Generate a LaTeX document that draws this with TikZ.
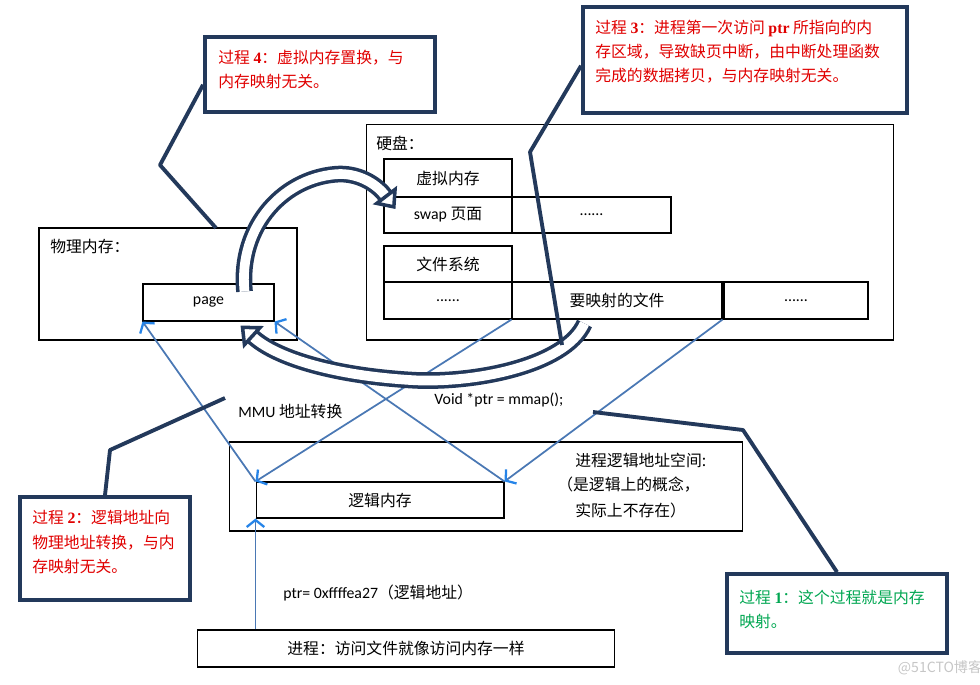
\documentclass[tikz,border=0pt]{standalone}
\usepackage{fontspec}
\setmainfont{Noto Sans CJK SC}
\newfontfamily\latin{Carlito}
\newfontfamily\tnr{Liberation Serif}
\usepackage{tikz}
\usetikzlibrary{arrows.meta,calc,fit}
\definecolor{navy}{HTML}{23395B}
\definecolor{steel}{HTML}{4A78B4}
\definecolor{tipblue}{HTML}{2684E8}
\definecolor{procred}{HTML}{E00000}
\definecolor{procgreen}{HTML}{00A651}

\begin{document}
\begin{tikzpicture}[x=0.02cm, y=-0.02cm,
    every node/.style={font=\fontsize{9pt}{13.7pt}\selectfont},
    membox/.style={draw, line width=0.6pt, inner sep=0pt},
    callout/.style={draw=navy, line width=2.2pt, inner sep=0pt},
    calltext/.style={anchor=west, inner sep=0pt, align=left},
    callline/.style={draw=navy, line width=2.2pt, line join=round},
    plain/.style={anchor=west, inner sep=0pt},
    maparrow/.style={draw=steel, line width=1pt,
        -{Straight Barb[color=tipblue, length=4pt, width=10pt, line width=1.3pt]}},
    swaparrow/.style={draw=navy, line width=2pt, double=white, double distance=5.5pt,
        -{Triangle[open, fill=white, length=10pt, width=17pt, line width=2pt]}}]
    \useasboundingbox (0,0) rectangle (980,684);

    % hard disk
    \node[membox, minimum width=10.56cm, minimum height=4.32cm] (disk) at (630,232) {};
    \node[plain] (disklabel) at (376,143) {硬盘：};
    \node[membox, minimum width=2.56cm, minimum height=0.76cm] (vmem) at (448,178) {虚拟内存};
    \node[membox, minimum width=2.56cm, minimum height=0.72cm] (swap) at (448,215) {{\latin swap} 页面};
    \node[membox, minimum width=3.18cm, minimum height=0.72cm] (swapdots) at (591.5,215) {\latin ......};
    \node[membox, minimum width=2.56cm, minimum height=0.72cm] (fs) at (448,264) {文件系统};
    \node[membox, minimum width=2.56cm, minimum height=0.74cm] (fsdots) at (448,300.5) {\latin ......};
    \node[membox, minimum width=4.2cm, minimum height=0.74cm] (mfile) at (617,300.5) {要映射的文件};
    \node[membox, minimum width=2.88cm, minimum height=0.74cm] (enddots) at (796,300.5) {\latin ......};

    % physical memory
    \node[membox, minimum width=5.16cm, minimum height=2.24cm] (phys) at (168,284) {};
    \node[plain] (physlabel) at (50,246) {物理内存：};
    \node[membox, minimum width=2.62cm, minimum height=0.74cm] (page) at (208.5,302.5) {\latin page};

    % logical address space
    \node[membox, minimum width=10.28cm, minimum height=1.78cm] (lspace) at (486,486.5) {};
    \node[membox, minimum width=4.96cm, minimum height=0.72cm] (lmem) at (380,500) {逻辑内存};
    \node[plain] (lspace1) at (575,460) {进程逻辑地址空间:};
    \node[plain] (lspace2) at (557,485) {（是逻辑上的概念，};
    \node[plain] (lspace3) at (575,510) {实际上不存在）};

    % process
    \node[membox, minimum width=8.36cm, minimum height=0.74cm] (proc) at (406,648.5) {进程：访问文件就像访问内存一样};
    \node[plain] (ptrval) at (283,593) {{\latin ptr= 0xffffea27}（逻辑地址）};
    \node[plain] (mmu) at (238,411) {{\latin MMU} 地址转换};
    \node[plain] (mmapcall) at (434,400) {\latin Void *ptr = mmap();};

    % address mapping
    \draw[maparrow] (lmem.north west) -- (page.south west);
    \draw[maparrow] (lmem.north east) -- (page.south east);
    \draw[maparrow] (mfile.south west) -- (lmem.north west);
    \draw[maparrow] (mfile.south east) -- (lmem.north east);
    \draw[maparrow] (lmem.south west |- proc.north) -- (lmem.south west);

    % swap and page fault copy
    \draw[swaparrow] ($(page.north east)+(-30,8)$) .. controls (238,225) and (285,176) .. (340,174)
        .. controls (362,174) and (378,186) .. ($(swap.west)+(12,-6)$);
    \draw[swaparrow] ($(mfile.south west)+(73,4)$) .. controls (565,367) and (470,384) .. (410,380)
        .. controls (330,375) and (275,357) .. ($(page.south east)+(-34,4)$);

    % callouts
    \node[callout, fit={(205,37) (435,112)}] (c4) {};
    \node[calltext, text=procred] (t4) at (218,69.5) {过程 {\tnr\bfseries 4}：虚拟内存置换，与\\内存映射无关。};
    \node[callout, fit={(583,7) (907,113)}] (c3) {};
    \node[calltext, text=procred] (t3) at (595,52) {过程 {\tnr\bfseries 3}：进程第一次访问 {\tnr\bfseries ptr} 所指向的内\\存区域，导致缺页中断，由中断处理函数\\完成的数据拷贝，与内存映射无关。};
    \node[callout, fit={(20,497) (190,600)}] (c2) {};
    \node[calltext, text=procred] (t2) at (32,542) {过程 {\tnr\bfseries 2}：逻辑地址向\\物理地址转换，与内\\存映射无关。};
    \node[callout, fit={(727,574) (947,653)}] (c1) {};
    \node[calltext, text=procgreen] (t1) at (739,609.5) {过程 {\tnr\bfseries 1}：这个过程就是内存\\映射。};

    \coordinate (c4bend) at (160,165);
    \coordinate (c4end) at (216,228);
    \coordinate (c3bend) at (530,152);
    \coordinate (c3end) at (562,345);
    \coordinate (c2bend) at (110,450);
    \coordinate (c2end) at (225,398);
    \coordinate (c1bend) at (743,430);
    \coordinate (c1end) at (593,412);
    \draw[callline] (c4.185) -- (c4bend) -- (c4end);
    \draw[callline] (c3.182) -- (c3bend) -- (c3end);
    \draw[callline] (c2.north) -- (c2bend) -- (c2end);
    \draw[callline] (c1.north) -- (c1bend) -- (c1end);

    \node[text=gray!45, font=\fontsize{8pt}{8pt}\selectfont] (wm) at (940,668) {@51CTO博客};
\end{tikzpicture}
\end{document}
